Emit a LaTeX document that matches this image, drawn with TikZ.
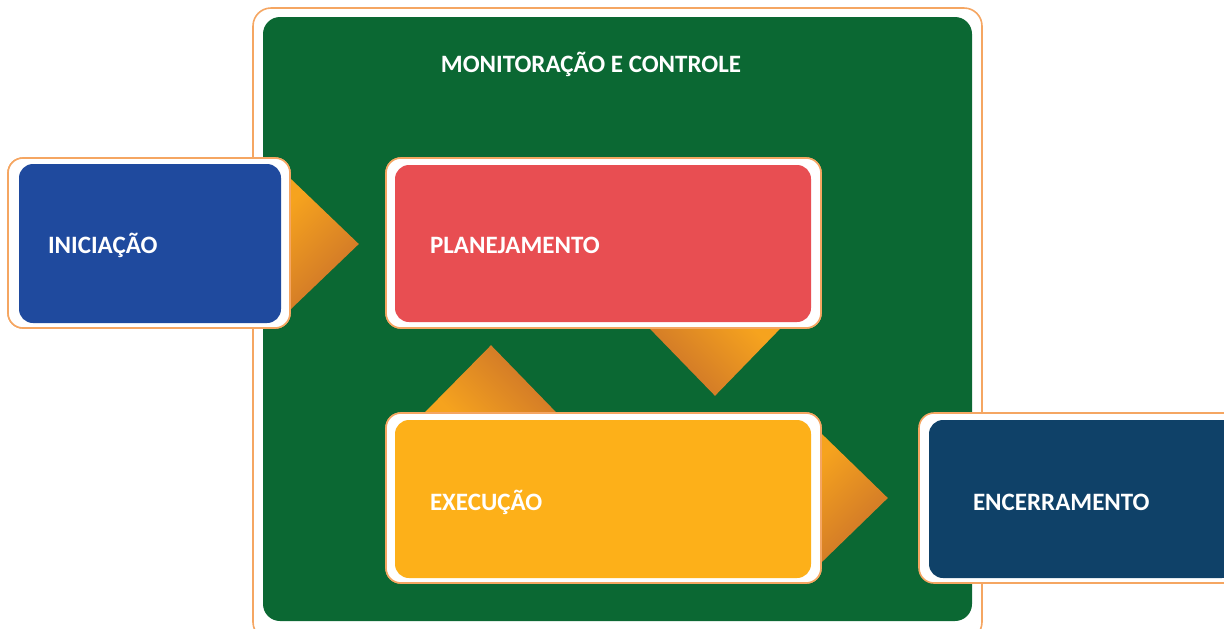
\documentclass[tikz,border=0pt]{standalone}
\usepackage{fontspec}
\setmainfont{Carlito}
\usetikzlibrary{calc}
\definecolor{cgreen}{HTML}{0B6833}
\definecolor{cblue}{HTML}{1F4A9E}
\definecolor{cred}{HTML}{E84E52}
\definecolor{cyellow}{HTML}{FDB019}
\definecolor{cnavy}{HTML}{0F4168}
\definecolor{cborder}{HTML}{F5A662}
\definecolor{arrA}{HTML}{F6A31E}
\definecolor{arrB}{HTML}{BC5E29}
\definecolor{arrC}{HTML}{C9702A}
\tikzset{
  outerbox/.style={draw=cborder, line width=0.8pt, fill=white, rounded corners=7.5pt, inner sep=0pt},
  innerbox/.style={fill=#1, rounded corners=7pt, inner sep=0pt},
  lbl/.style={text=white, font=\fontsize{12.5pt}{15pt}\selectfont\bfseries, inner sep=0pt, anchor=west},
  arrowtri/.style={shading=axis, top color=arrA, middle color=arrB, bottom color=arrC, shading angle=#1}
}
\begin{document}
\begin{tikzpicture}[x=0.5pt, y=-0.5pt]
\useasboundingbox (0,0) rectangle (1224,628);
% container
\node[draw=cborder, line width=0.8pt, fill=white, rounded corners=9pt, inner sep=0pt,
      minimum width=364.5pt, minimum height=316pt] (monO) at (617.5,324) {};
\node[fill=cgreen, rounded corners=8.5pt, inner sep=0pt,
      minimum width=354.5pt, minimum height=302pt] (mon) at (617.5,319) {};
\node[lbl, anchor=center] (monT) at (591,64) {MONITORAÇÃO E CONTROLE};

% boxes outer
\node[outerbox, minimum width=141pt, minimum height=85pt] (iniO) at (149,243) {};
\node[outerbox, minimum width=217.5pt, minimum height=85pt] (plaO) at (603.5,243) {};
\node[outerbox, minimum width=217.5pt, minimum height=85pt] (exeO) at (603.5,498) {};

% arrows
\shade[arrowtri=45] ($(iniO.east)+(-4,-68)$) -- ($(iniO.east)+(68,1)$) -- ($(iniO.east)+(-4,70)$) -- cycle;
\shade[arrowtri=-45] ($(plaO.south)+(44.5,-2)$) -- ($(plaO.south)+(178.5,-2)$) -- ($(plaO.south)+(111.5,67)$) -- cycle;
\shade[arrowtri=135] ($(exeO.north)+(-180.5,2)$) -- ($(exeO.north)+(-45.5,2)$) -- ($(exeO.north)+(-112.5,-67)$) -- cycle;
\shade[arrowtri=45] ($(exeO.east)+(-4,-68)$) -- ($(exeO.east)+(66,0)$) -- ($(exeO.east)+(-4,68)$) -- cycle;

% redraw outer boxes over arrow bases
\node[outerbox, minimum width=141pt, minimum height=85pt] (iniO2) at (iniO) {};
\node[outerbox, minimum width=217.5pt, minimum height=85pt] (plaO2) at (plaO) {};
\node[outerbox, minimum width=217.5pt, minimum height=85pt] (exeO2) at (exeO) {};
\node[outerbox, minimum width=163pt, minimum height=85pt] (encO) at (1082,498) {};

% inner boxes
\node[innerbox=cblue, minimum width=131pt, minimum height=79.5pt] (ini) at (150,243.5) {};
\node[innerbox=cred, minimum width=208pt, minimum height=78.5pt] (pla) at (603,243.5) {};
\node[innerbox=cyellow, minimum width=208pt, minimum height=79pt] (exe) at (603,499) {};
\node[innerbox=cnavy, minimum width=153.5pt, minimum height=79pt] (enc) at (1082.5,499) {};

% labels
\node[lbl] (iniT) at ([xshift=14.5pt,yshift=-1pt]ini.west) {INICIAÇÃO};
\node[lbl] (plaT) at ([xshift=17.5pt,yshift=-1pt]pla.west) {PLANEJAMENTO};
\node[lbl] (exeT) at ([xshift=17.5pt,yshift=-1.5pt]exe.west) {EXECUÇÃO};
\node[lbl] (encT) at ([xshift=22pt,yshift=-1.5pt]enc.west) {ENCERRAMENTO};
\end{tikzpicture}
\end{document}
